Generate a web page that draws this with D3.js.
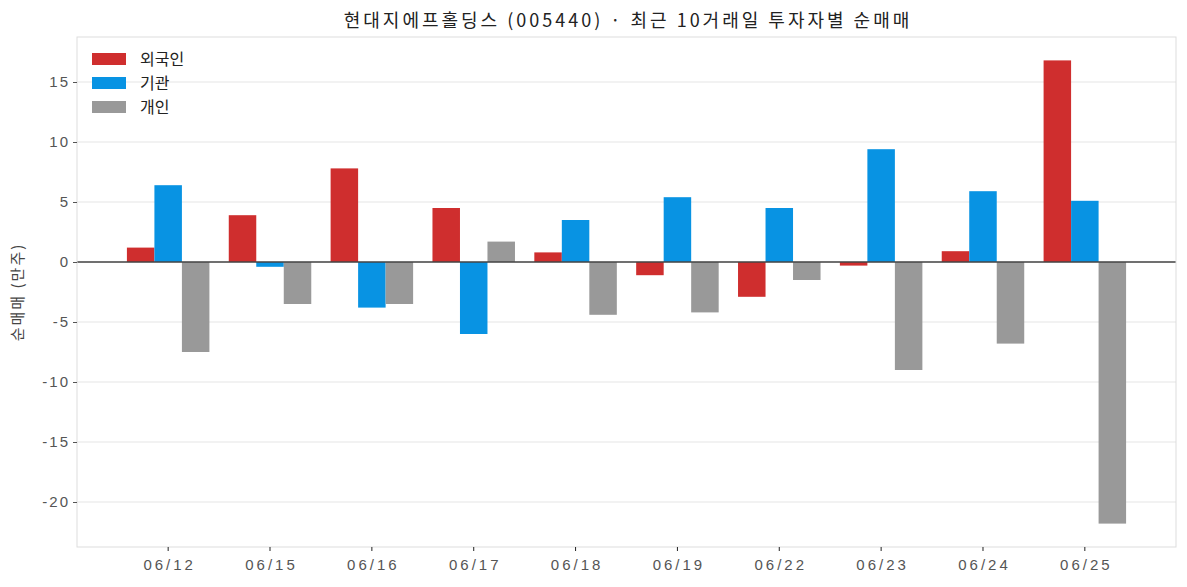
<!DOCTYPE html>
<html>
<head>
<meta charset="utf-8">
<script src="https://cdn.jsdelivr.net/npm/d3@7"></script>
<style>
  body { margin: 0; background: #fff; }
  svg { display: block; font-family: "Noto Sans CJK KR", "Noto Sans", sans-serif; }
</style>
</head>
<body>
<svg id="chart" width="1187" height="587"></svg>
<script>
// data (unit: 만주)
var dates = ['06/12', '06/15', '06/16', '06/17', '06/18', '06/19', '06/22', '06/23', '06/24', '06/25'];
var foreign = [1.2, 3.9, 7.8, 4.5, 0.8, -1.1, -2.9, -0.3, 0.9, 16.8];
var institution = [6.4, -0.4, -3.8, -6.0, 3.5, 5.4, 4.5, 9.4, 5.9, 5.1];
var individual = [-7.5, -3.5, -3.5, 1.7, -4.4, -4.2, -1.5, -9.0, -6.8, -21.8];
var seriesNames = ['외국인', '기관', '개인'];
var seriesColors = ['#cf2e2e', '#0893e3', '#999999'];
var yTicks = [-20, -15, -10, -5, 0, 5, 10, 15];

var rows = dates.map(function (d, i) {
    return { date: d, values: [foreign[i], institution[i], individual[i]] };
});

const svg = d3.select('#chart');
const margin = { top: 37, right: 11, bottom: 40, left: 77 };
const width = 1187 - margin.left - margin.right;
const height = 587 - margin.top - margin.bottom;

const chart = svg.append('g')
    .attr('transform', 'translate(' + margin.left + ',' + margin.top + ')');

const xScale = d3.scaleBand()
    .domain(dates)
    .range([0, width])
    .paddingInner(0.19)
    .paddingOuter(0.49);

const xSub = d3.scaleBand()
    .domain([0, 1, 2])
    .range([0, xScale.bandwidth()]);

const yScale = d3.scaleLinear()
    .domain([-23.75, 18.75])
    .range([height, 0]);

// grid lines
chart.append('g')
    .selectAll('line')
    .data(yTicks)
    .enter().append('line')
    .attr('x1', 0)
    .attr('x2', width)
    .attr('y1', function (d) { return yScale(d); })
    .attr('y2', function (d) { return yScale(d); })
    .attr('stroke', '#e5e5e5')
    .attr('stroke-width', 1);

// bars
const groups = chart.selectAll('.grp')
    .data(rows)
    .enter().append('g')
    .attr('class', 'grp')
    .attr('transform', function (d) { return 'translate(' + xScale(d.date) + ',0)'; });

groups.selectAll('rect')
    .data(function (d) { return d.values; })
    .enter().append('rect')
    .attr('x', function (v, i) { return xSub(i); })
    .attr('width', xSub.bandwidth())
    .attr('y', function (v) { return yScale(Math.max(0, v)); })
    .attr('height', function (v) { return Math.abs(yScale(v) - yScale(0)); })
    .attr('fill', function (v, i) { return seriesColors[i]; });

// zero line
chart.append('line')
    .attr('x1', 0)
    .attr('x2', width)
    .attr('y1', yScale(0))
    .attr('y2', yScale(0))
    .attr('stroke', '#444')
    .attr('stroke-width', 1.3);

// frame
chart.append('rect')
    .attr('x', 0)
    .attr('y', 0)
    .attr('width', width)
    .attr('height', height)
    .attr('fill', 'none')
    .attr('stroke', '#dddddd')
    .attr('stroke-width', 1);

// y axis
const yAxis = chart.append('g')
    .call(d3.axisLeft(yScale).tickValues(yTicks).tickSize(4).tickPadding(5)
        .tickFormat(function (d) { return String(d); }));
yAxis.select('.domain').remove();
yAxis.selectAll('line').attr('stroke', '#555');
yAxis.selectAll('text')
    .attr('fill', '#555')
    .attr('dx', 2)
    .style('font-size', '15px')
    .style('letter-spacing', '2px');

// x axis
const xAxis = chart.append('g')
    .attr('transform', 'translate(0,' + height + ')')
    .call(d3.axisBottom(xScale).tickSize(4).tickPadding(8));
xAxis.select('.domain').remove();
xAxis.selectAll('line').attr('stroke', '#222');
xAxis.selectAll('text')
    .attr('fill', '#555')
    .attr('dx', 1.5)
    .style('font-size', '15px')
    .style('letter-spacing', '3px');

// legend
const legend = chart.append('g')
    .attr('transform', 'translate(15,16)');
const legendItems = legend.selectAll('g')
    .data(seriesNames)
    .enter().append('g')
    .attr('transform', function (d, i) { return 'translate(0,' + (i * 24) + ')'; });
legendItems.append('rect')
    .attr('width', 34)
    .attr('height', 12)
    .attr('fill', function (d, i) { return seriesColors[i]; });
legendItems.append('text')
    .attr('x', 48)
    .attr('y', 6)
    .attr('dy', '0.35em')
    .attr('fill', '#222')
    .style('font-size', '16px')
    .text(function (d) { return d; });

// title
svg.append('text')
    .attr('x', margin.left + width / 2 + 1.5)
    .attr('y', 21)
    .attr('dy', '0.35em')
    .attr('text-anchor', 'middle')
    .attr('fill', '#222')
    .style('font-size', '18px')
    .style('letter-spacing', '3px')
    .text('현대지에프홀딩스 (005440) · 최근 10거래일 투자자별 순매매');

// y label
svg.append('text')
    .attr('transform', 'translate(18,' + (margin.top + height / 2) + ') rotate(-90)')
    .attr('dy', '0.35em')
    .attr('text-anchor', 'middle')
    .attr('fill', '#444')
    .style('font-size', '15px')
    .style('letter-spacing', '2px')
    .text('순매매 (만주)');
</script>
</body>
</html>
